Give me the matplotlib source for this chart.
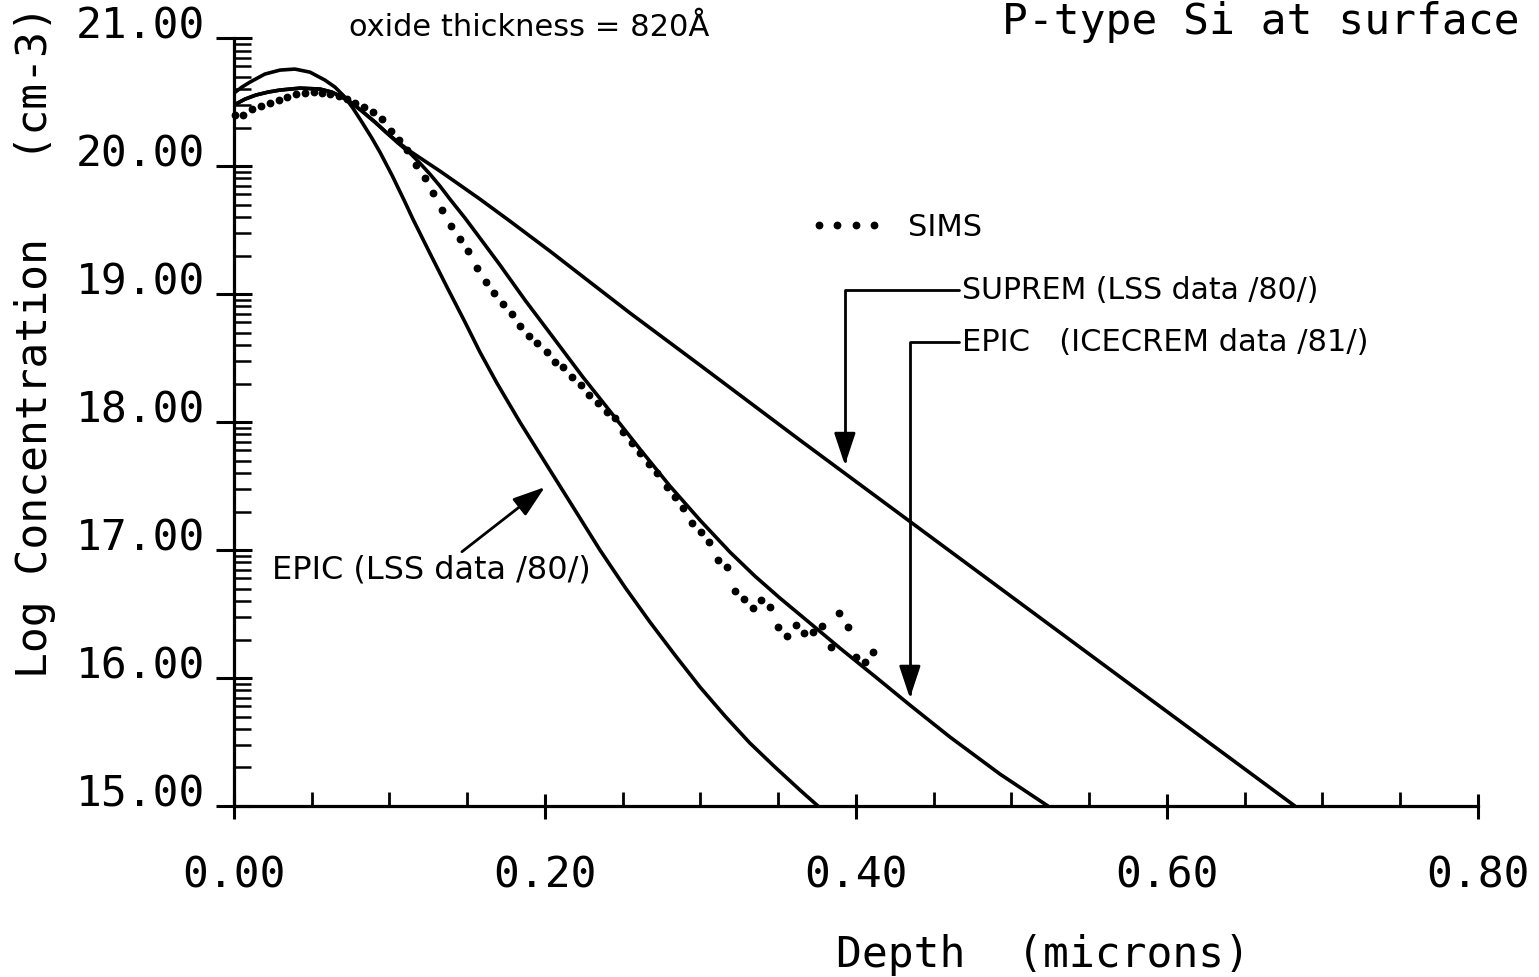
import numpy as np
import matplotlib
matplotlib.use("Agg")
import matplotlib.pyplot as plt
from matplotlib.ticker import FixedLocator, MultipleLocator, FormatStrFormatter

# SIMS measurement (depth in microns, log10 concentration in cm-3)
sims_depth = [0.0006, 0.0058, 0.0116, 0.0174, 0.0232, 0.0289, 0.0341, 0.0399, 0.0457, 0.0514,
              0.0566, 0.0617, 0.0675, 0.0727, 0.0778, 0.0836, 0.0894, 0.0952, 0.1010, 0.1061,
              0.1113, 0.1170, 0.1228, 0.1280, 0.1338, 0.1395, 0.1453, 0.1505, 0.1563, 0.1621,
              0.1672, 0.1730, 0.1788, 0.1839, 0.1897, 0.1949, 0.2013, 0.2064, 0.2116, 0.2174,
              0.2232, 0.2283, 0.2341, 0.2399, 0.2450, 0.2502, 0.2559, 0.2611, 0.2669, 0.2720,
              0.2785, 0.2836, 0.2887, 0.2945, 0.3003, 0.3055, 0.3113, 0.3170, 0.3222, 0.3280,
              0.3338, 0.3389, 0.3447, 0.3498, 0.3556, 0.3614, 0.3666, 0.3723, 0.3781, 0.3839,
              0.3891, 0.3949, 0.4000, 0.4058, 0.4109]
sims_logc = [20.398, 20.400, 20.445, 20.469, 20.492, 20.516, 20.539, 20.563, 20.570, 20.578,
             20.570, 20.563, 20.547, 20.523, 20.492, 20.461, 20.422, 20.367, 20.273, 20.203,
             20.125, 20.008, 19.906, 19.789, 19.656, 19.531, 19.430, 19.336, 19.203, 19.094,
             19.008, 18.922, 18.844, 18.750, 18.672, 18.617, 18.547, 18.469, 18.430, 18.352,
             18.289, 18.211, 18.148, 18.078, 18.031, 17.922, 17.836, 17.758, 17.672, 17.602,
             17.492, 17.414, 17.328, 17.211, 17.141, 17.063, 16.922, 16.867, 16.680, 16.617,
             16.547, 16.609, 16.555, 16.398, 16.328, 16.414, 16.352, 16.359, 16.406, 16.242,
             16.508, 16.398, 16.164, 16.125, 16.203]

# EPIC simulation with LSS range data
epic_lss_depth = [0.0, 0.0051, 0.0103, 0.0199, 0.0296, 0.0392, 0.0489, 0.0585, 0.0650, 0.0714,
                  0.0765, 0.0823, 0.0887, 0.0939, 0.1016, 0.1100, 0.1151, 0.1260, 0.1370, 0.1486,
                  0.1582, 0.1691, 0.1839, 0.2032, 0.2193, 0.2354, 0.2514, 0.2675, 0.2836, 0.2997,
                  0.3158, 0.3318, 0.3479, 0.3640, 0.3756]
epic_lss_logc = [20.570, 20.617, 20.656, 20.719, 20.750, 20.758, 20.734, 20.672, 20.617, 20.539,
                 20.453, 20.344, 20.219, 20.109, 19.930, 19.719, 19.586, 19.320, 19.055, 18.781,
                 18.547, 18.305, 18.000, 17.625, 17.313, 17.000, 16.711, 16.438, 16.180, 15.930,
                 15.703, 15.492, 15.305, 15.125, 15.000]

# EPIC simulation with ICECREM range data
epic_ice_depth = [0.0, 0.0071, 0.0141, 0.0219, 0.0296, 0.0424, 0.0553, 0.0630, 0.0695, 0.0759,
                  0.0823, 0.0907, 0.0984, 0.1055, 0.1132, 0.1196, 0.1260, 0.1325, 0.1389, 0.1486,
                  0.1582, 0.1711, 0.1872, 0.2032, 0.2244, 0.2418, 0.2611, 0.2804, 0.2997, 0.3190,
                  0.3350, 0.3511, 0.3704, 0.3897, 0.4135, 0.4347, 0.4605, 0.4926, 0.5235]
epic_ice_logc = [20.477, 20.523, 20.555, 20.578, 20.594, 20.609, 20.602, 20.578, 20.539, 20.492,
                 20.430, 20.344, 20.258, 20.180, 20.102, 20.023, 19.938, 19.844, 19.742, 19.594,
                 19.438, 19.227, 18.953, 18.695, 18.352, 18.086, 17.789, 17.500, 17.234, 16.984,
                 16.797, 16.625, 16.430, 16.234, 16.000, 15.789, 15.539, 15.250, 15.000]

# SUPREM simulation with LSS range data
suprem_depth = [0.0, 0.0071, 0.0141, 0.0219, 0.0296, 0.0424, 0.0553, 0.0630, 0.0695, 0.0759,
                0.0823, 0.0907, 0.0984, 0.1055, 0.1132, 0.1228, 0.1325, 0.1453, 0.1582, 0.1775,
                0.2032, 0.2289, 0.2547, 0.2997, 0.3640, 0.4926, 0.5891, 0.6823]
suprem_logc = [20.477, 20.523, 20.555, 20.578, 20.594, 20.609, 20.602, 20.578, 20.539, 20.492,
               20.430, 20.344, 20.258, 20.188, 20.117, 20.039, 19.961, 19.852, 19.742, 19.570,
               19.336, 19.094, 18.852, 18.445, 17.859, 16.703, 15.836, 15.000]

x_major = [0.0, 0.2, 0.4, 0.6, 0.8]
y_major = [15, 16, 17, 18, 19, 20, 21]

mono = "DejaVu Sans Mono"
sans = "DejaVu Sans"
plt.rcParams["font.family"] = mono

fig = plt.figure(figsize=(15.39, 9.77), dpi=100)
ax = fig.add_axes([0.152, 0.175, 0.8083, 0.786])

line_kw = dict(color="black", lw=2.6, solid_capstyle="round", solid_joinstyle="round")
ax.plot(epic_lss_depth, epic_lss_logc, **line_kw)
ax.plot(epic_ice_depth, epic_ice_logc, **line_kw)
ax.plot(suprem_depth, suprem_logc, **line_kw)
sims, = ax.plot(sims_depth, sims_logc, ls="none", marker="o", ms=4.6,
                color="black", label="SIMS", clip_on=False)

ax.set_xlim(0, 0.8)
ax.set_ylim(15, 21)

for side in ["top", "right"]:
    ax.spines[side].set_visible(False)
for side in ["left", "bottom"]:
    ax.spines[side].set_linewidth(2.3)

# log-decade minor ticks inside each unit of log concentration
y_minor = [d + np.log10(k) for d in range(15, 21) for k in range(2, 10)]
ax.yaxis.set_major_locator(FixedLocator(y_major))
ax.yaxis.set_minor_locator(FixedLocator(y_minor))
ax.xaxis.set_major_locator(FixedLocator(x_major))
ax.xaxis.set_minor_locator(MultipleLocator(0.05))
ax.xaxis.set_major_formatter(FormatStrFormatter("%.2f"))
ax.yaxis.set_major_formatter(FormatStrFormatter("%.2f"))

ax.tick_params(axis="y", which="major", direction="inout", length=26, width=2.2,
               labelsize=31, pad=8)
ax.tick_params(axis="y", which="minor", direction="in", length=12, width=1.8)
ax.tick_params(axis="x", which="major", direction="inout", length=18, width=2.2,
               labelsize=31, pad=26)
ax.tick_params(axis="x", which="minor", direction="in", length=10, width=2.0)
for lab in ax.get_yticklabels():
    lab.set_verticalalignment("baseline")

ax.set_xlabel("Depth  (microns)", fontsize=31)
ax.xaxis.set_label_coords(0.65, -0.194)
ax.xaxis.label.set_verticalalignment("center")
ax.set_ylabel("Log Concentration   (cm-3)", fontsize=31)
ax.yaxis.set_label_coords(-0.16, 0.605)
ax.yaxis.label.set_verticalalignment("center")

fig.text(1520 / 1539, 1 - 22 / 977, "P-type Si at surface", fontsize=31,
         ha="right", va="center")
fig.text(529 / 1539, 1 - 27 / 977, "oxide thickness = 820Å", family=sans,
         fontsize=22, ha="center", va="center")

ax.legend(handles=[sims], numpoints=4, frameon=False, loc="center left",
          bbox_to_anchor=(0.463, 0.754), borderpad=0, borderaxespad=0,
          handlelength=2.4, handletextpad=0.8, prop=dict(family=sans, size=22))

arrow_kw = dict(arrowstyle="-|>,head_length=0.9,head_width=0.3", color="black",
                lw=2.0, mutation_scale=22, shrinkA=0, shrinkB=0)
ax.annotate("SUPREM (LSS data /80/)", xy=(0.3929, 17.664), xytext=(0.4682, 19.031),
            family=sans, fontsize=21.5, va="center", ha="left",
            arrowprops=dict(connectionstyle="angle,angleA=0,angleB=90,rad=0",
                            relpos=(0, 0.5), **arrow_kw))
ax.annotate("EPIC   (ICECREM data /81/)", xy=(0.4347, 15.844), xytext=(0.4682, 18.625),
            family=sans, fontsize=22, va="center", ha="left",
            arrowprops=dict(connectionstyle="angle,angleA=0,angleB=90,rad=0",
                            relpos=(0, 0.5), **arrow_kw))
ax.annotate("EPIC (LSS data /80/)", xy=(0.2, 17.492), xytext=(0.0244, 16.844),
            family=sans, fontsize=23, va="center", ha="left",
            arrowprops=dict(relpos=(0.585, 1.0), **arrow_kw))

fig.savefig("out.png", dpi=100, facecolor="white")
